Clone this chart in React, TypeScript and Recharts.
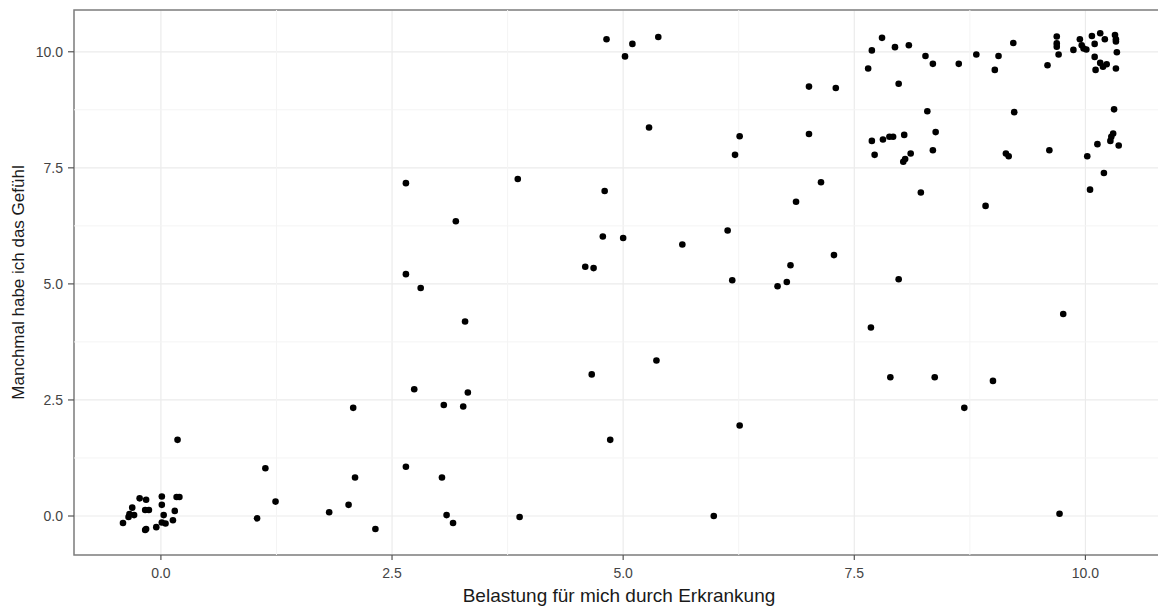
import { CartesianGrid, ReferenceArea, ReferenceLine, Scatter, ScatterChart, XAxis, YAxis } from "recharts";

type Pt = { x: number; y: number };

// jittered responses, grouped by rough "Belastung" level
const belastung0: Pt[] = [
  { x: -0.41, y: -0.15 }, { x: -0.35, y: -0.02 }, { x: -0.34, y: 0.04 }, { x: -0.31, y: 0.18 },
  { x: -0.29, y: 0.02 }, { x: -0.23, y: 0.38 }, { x: -0.16, y: 0.35 }, { x: -0.17, y: 0.13 },
  { x: -0.13, y: 0.13 }, { x: -0.17, y: -0.3 }, { x: -0.16, y: -0.28 }, { x: -0.05, y: -0.24 },
  { x: 0.01, y: -0.14 }, { x: 0.05, y: -0.16 }, { x: 0.13, y: -0.09 }, { x: 0.03, y: 0.02 },
  { x: 0.01, y: 0.24 }, { x: 0.01, y: 0.42 }, { x: 0.15, y: 0.11 }, { x: 0.17, y: 0.41 },
  { x: 0.2, y: 0.41 }, { x: 0.18, y: 1.64 },
];

const belastung1to3: Pt[] = [
  { x: 1.13, y: 1.03 }, { x: 1.24, y: 0.31 }, { x: 1.04, y: -0.05 }, { x: 1.82, y: 0.08 },
  { x: 2.03, y: 0.24 }, { x: 2.08, y: 2.33 }, { x: 2.1, y: 0.83 }, { x: 2.74, y: 2.73 },
  { x: 3.32, y: 2.66 }, { x: 3.06, y: 2.39 }, { x: 3.27, y: 2.36 }, { x: 2.65, y: 1.06 },
  { x: 3.04, y: 0.83 }, { x: 2.32, y: -0.28 }, { x: 3.09, y: 0.02 }, { x: 3.16, y: -0.15 },
  { x: 3.88, y: -0.02 }, { x: 2.65, y: 7.17 }, { x: 3.19, y: 6.35 }, { x: 2.65, y: 5.21 },
  { x: 2.81, y: 4.91 }, { x: 3.29, y: 4.19 }, { x: 3.86, y: 7.26 },
];

const belastung5to7: Pt[] = [
  { x: 4.86, y: 1.64 }, { x: 4.82, y: 10.27 }, { x: 5.1, y: 10.17 }, { x: 5.02, y: 9.9 },
  { x: 5.38, y: 10.32 }, { x: 7.01, y: 9.25 }, { x: 7.3, y: 9.22 }, { x: 5.28, y: 8.37 },
  { x: 6.26, y: 8.18 }, { x: 6.21, y: 7.78 }, { x: 7.01, y: 8.23 }, { x: 7.14, y: 7.19 },
  { x: 6.87, y: 6.77 }, { x: 4.8, y: 7.0 }, { x: 4.78, y: 6.02 }, { x: 5.0, y: 5.99 },
  { x: 5.64, y: 5.85 }, { x: 6.13, y: 6.15 }, { x: 7.28, y: 5.62 }, { x: 4.59, y: 5.37 },
  { x: 4.68, y: 5.34 }, { x: 4.66, y: 3.05 }, { x: 5.36, y: 3.35 }, { x: 6.26, y: 1.95 },
  { x: 6.18, y: 5.08 }, { x: 6.67, y: 4.95 }, { x: 6.77, y: 5.04 }, { x: 6.81, y: 5.4 },
  { x: 5.98, y: 0.0 },
];

const belastung8to9: Pt[] = [
  { x: 7.8, y: 10.3 }, { x: 7.69, y: 10.03 }, { x: 7.65, y: 9.64 }, { x: 7.94, y: 10.1 },
  { x: 8.09, y: 10.14 }, { x: 8.27, y: 9.91 }, { x: 8.35, y: 9.74 }, { x: 8.63, y: 9.74 },
  { x: 8.82, y: 9.94 }, { x: 9.06, y: 9.91 }, { x: 9.02, y: 9.61 }, { x: 9.22, y: 10.19 },
  { x: 7.98, y: 9.31 }, { x: 8.29, y: 8.72 }, { x: 9.23, y: 8.7 }, { x: 7.69, y: 8.08 },
  { x: 7.81, y: 8.11 }, { x: 7.88, y: 8.17 }, { x: 7.92, y: 8.17 }, { x: 8.04, y: 8.21 },
  { x: 8.38, y: 8.27 }, { x: 7.72, y: 7.78 }, { x: 8.03, y: 7.63 }, { x: 8.05, y: 7.69 },
  { x: 8.11, y: 7.81 }, { x: 8.35, y: 7.88 }, { x: 9.14, y: 7.81 }, { x: 9.17, y: 7.75 },
  { x: 8.22, y: 6.97 }, { x: 8.92, y: 6.68 }, { x: 7.98, y: 5.1 }, { x: 7.68, y: 4.06 },
  { x: 7.89, y: 2.99 }, { x: 8.37, y: 2.99 }, { x: 9.0, y: 2.91 }, { x: 8.69, y: 2.33 },
];

const belastung10: Pt[] = [
  { x: 9.59, y: 9.71 }, { x: 9.69, y: 10.33 }, { x: 9.69, y: 10.18 }, { x: 9.69, y: 10.11 },
  { x: 9.71, y: 9.94 }, { x: 9.87, y: 10.04 }, { x: 9.94, y: 10.27 }, { x: 9.96, y: 10.14 },
  { x: 9.98, y: 10.07 }, { x: 10.01, y: 10.05 }, { x: 10.07, y: 10.34 }, { x: 10.16, y: 10.4 },
  { x: 10.1, y: 10.17 }, { x: 10.21, y: 10.27 }, { x: 10.32, y: 10.36 }, { x: 10.33, y: 10.27 },
  { x: 10.33, y: 10.22 }, { x: 10.34, y: 9.99 }, { x: 10.1, y: 9.89 }, { x: 10.16, y: 9.76 },
  { x: 10.19, y: 9.68 }, { x: 10.23, y: 9.73 }, { x: 10.11, y: 9.61 }, { x: 10.33, y: 9.64 },
  { x: 10.31, y: 8.76 }, { x: 9.61, y: 7.88 }, { x: 10.02, y: 7.75 }, { x: 10.13, y: 8.01 },
  { x: 10.27, y: 8.08 }, { x: 10.28, y: 8.17 }, { x: 10.3, y: 8.24 }, { x: 10.36, y: 7.98 },
  { x: 10.2, y: 7.39 }, { x: 10.05, y: 7.03 }, { x: 9.76, y: 4.35 }, { x: 9.72, y: 0.05 },
];

const majorTicks = [0, 2.5, 5, 7.5, 10];
const minorTicks = [1.25, 3.75, 6.25, 8.75];
const xDomain: [number, number] = [-0.94, 10.85];
const yDomain: [number, number] = [-0.84, 10.9];

const allPoints = [...belastung0, ...belastung1to3, ...belastung5to7, ...belastung8to9, ...belastung10];

const font = "Liberation Sans, Arial, sans-serif";
const tickStyle = { fill: "#444", fontSize: 14, fontFamily: font };

const Dot = (props: any) => <circle cx={props.cx} cy={props.cy} r={3.3} fill="#000" />;

export default function App() {
  return (
    <ScatterChart width={1158} height={604} margin={{ top: 2, right: 2, bottom: 0, left: 0 }}>
      <CartesianGrid stroke="#ebebeb" strokeWidth={1.2} />
      {minorTicks.map((v) => (
        <ReferenceLine key={"mx" + v} x={v} stroke="#f4f4f4" strokeWidth={1} />
      ))}
      {minorTicks.map((v) => (
        <ReferenceLine key={"my" + v} y={v} stroke="#f4f4f4" strokeWidth={1} />
      ))}
      <XAxis
        type="number"
        dataKey="x"
        domain={xDomain}
        ticks={majorTicks}
        allowDataOverflow
        height={57}
        axisLine={false}
        tickSize={5}
        tickMargin={8}
        tickLine={{ stroke: "#555", strokeWidth: 1.2 }}
        tick={tickStyle}
        tickFormatter={(v: number) => v.toFixed(1)}
        label={{
          value: "Belastung für mich durch Erkrankung",
          position: "insideBottom",
          offset: 10,
          style: { fill: "#1a1a1a", fontSize: 19, fontFamily: font },
        }}
      />
      <YAxis
        type="number"
        dataKey="y"
        domain={yDomain}
        ticks={majorTicks}
        allowDataOverflow
        width={66}
        axisLine={false}
        tickSize={6}
        tickMargin={5}
        tickLine={{ stroke: "#555", strokeWidth: 1.2 }}
        tick={tickStyle}
        tickFormatter={(v: number) => v.toFixed(1)}
        label={{
          value: "Manchmal habe ich das Gefühl",
          angle: -90,
          position: "insideLeft",
          offset: 10,
          style: { fill: "#1a1a1a", fontSize: 17, fontFamily: font, textAnchor: "middle" },
        }}
      />
      <ReferenceArea
        x1={xDomain[0]}
        x2={xDomain[1]}
        y1={yDomain[0]}
        y2={yDomain[1]}
        fill="none"
        stroke="#7f7f7f"
        strokeWidth={1.5}
      />
      <Scatter data={allPoints} shape={Dot} isAnimationActive={false} />
    </ScatterChart>
  );
}
